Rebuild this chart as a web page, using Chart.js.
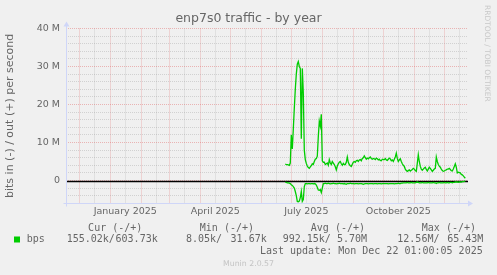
<!DOCTYPE html>
<html><head><meta charset="utf-8">
<script src="https://cdn.jsdelivr.net/npm/chart.js@4/dist/chart.umd.min.js"></script>
<style>html,body{margin:0;padding:0;background:#F0F0F0;}canvas{display:block}</style>
</head><body>
<canvas id="c" width="497" height="275"></canvas>
<script>
// ---------- data ----------
const chartTitle = 'enp7s0 traffic - by year';
const yAxisTitle = 'bits in (-) / out (+) per second';
const watermark = 'RRDTOOL / TOBI OETIKER';
// time axis in days counted from 17 Nov 2024 (start of the 400-day window)
const monthStartDays = [14, 45, 76, 104, 135, 165, 196, 226, 257, 288, 318, 349, 379];
const midMonthDays = [29, 60, 91, 119, 150, 180, 211, 241, 272, 303, 333, 364, 394];
const quarterLabelDays = [60, 150, 241, 333];
const quarterLabels = ['January 2025', 'April 2025', 'July 2025', 'October 2025'];
const yTickValues = [-6e6, -4e6, -2e6, 0, 2e6, 4e6, 6e6, 8e6, 10e6, 12e6, 14e6, 16e6, 18e6, 20e6,
  22e6, 24e6, 26e6, 28e6, 30e6, 32e6, 34e6, 36e6, 38e6, 40e6];
const yLabelledValues = [0, 10e6, 20e6, 30e6, 40e6];
const yLabels = ['0', '10 M', '20 M', '30 M', '40 M'];
const firstDataDay = 220;               // first daily sample (late June 2025)
// daily averages, Mbit/s, out (+)
const outMbps = [
  4.3,4.2,4.2,4.1,4.0,4.6,12.0,8.3,13.5,19.0,
  24.0,28.0,30.6,31.3,30.0,29.5,11.0,29.5,23.0,8.0,
  5.5,4.5,3.8,3.4,3.2,3.6,3.9,4.4,4.2,5.0,
  5.6,5.8,6.4,11.5,15.6,14.3,17.4,5.2,4.8,4.8,
  4.2,4.4,4.6,4.0,5.5,4.6,4.2,5.0,4.6,4.2,
  3.6,2.8,3.8,4.4,4.8,5.0,4.4,4.0,4.5,4.2,
  4.2,4.8,6.2,4.8,4.2,3.9,3.7,4.3,4.8,5.0,
  4.8,5.2,5.3,5.0,5.4,5.5,5.2,5.8,6.0,6.5,
  6.0,5.6,5.9,5.7,6.0,6.2,5.8,5.6,5.8,5.7,
  5.5,5.9,5.7,5.4,5.6,5.3,5.2,5.6,5.5,5.5,
  5.8,5.4,5.3,5.6,5.9,5.7,5.2,5.4,5.0,5.6,
  6.2,7.2,5.8,5.0,5.4,5.7,5.0,4.4,4.0,3.7,
  3.0,2.6,2.4,2.6,2.8,2.5,2.7,2.9,3.2,3.0,
  2.6,2.4,4.5,6.8,5.0,3.7,3.0,2.7,3.0,3.3,
  3.5,2.9,2.5,3.0,3.5,3.2,2.8,2.4,2.7,3.0,
  3.2,6.2,5.0,4.2,3.8,3.5,3.0,2.6,2.4,2.5,
  2.7,2.8,3.0,3.0,3.2,2.9,2.6,2.5,3.0,3.7,
  4.4,3.5,2.0,2.2,2.1,2.0,1.6,1.5,1.2,0.9,
  0.6
];
// daily averages, Mbit/s, in (-), as positive magnitudes
const inMbps = [
  0.5,0.5,0.6,0.6,0.7,0.8,1.1,1.3,1.6,2.0,
  2.9,4.0,5.5,5.6,5.4,4.5,2.9,5.5,5.0,1.6,
  0.8,0.8,0.9,0.8,0.8,0.9,0.8,0.8,0.9,0.8,
  0.9,1.2,1.8,2.5,2.6,2.4,3.2,2.0,0.8,0.8,
  0.7,0.8,0.8,0.7,0.8,0.9,0.8,0.8,0.7,0.8,
  0.8,0.9,0.8,0.8,0.7,0.8,0.8,0.8,0.9,0.8,
  0.9,1.0,0.8,0.8,0.8,0.7,0.8,0.8,0.8,0.9,
  0.8,0.8,0.8,0.9,0.8,0.8,0.8,0.9,1.0,0.9,
  0.8,0.8,0.8,0.9,0.8,0.8,0.8,0.8,0.9,0.8,
  0.8,0.8,0.9,0.8,0.8,0.8,0.9,0.8,0.8,0.8,
  0.8,0.8,0.8,0.9,0.8,0.8,0.8,0.8,0.8,0.9,
  0.8,0.8,0.8,0.7,0.8,0.8,0.7,0.7,0.6,0.6,
  0.6,0.6,0.5,0.6,0.6,0.6,0.5,0.6,0.6,0.6,
  0.6,0.5,0.4,0.5,0.6,0.6,0.6,0.5,0.6,0.6,
  0.6,0.6,0.6,0.5,0.6,0.6,0.6,0.6,0.5,0.6,
  0.6,0.8,0.6,0.6,0.5,0.6,0.6,0.6,0.6,0.5,
  0.6,0.6,0.5,0.6,0.6,0.5,0.5,0.6,0.5,0.5,
  0.4,0.4,0.4,0.5,0.4,0.4,0.4,0.3,0.3,0.2,
  0.15
];
const seriesName = 'bps';
const legendHeaders = ['Cur (-/+)', 'Min (-/+)', 'Avg (-/+)', 'Max (-/+)'];
const legendIn = ['155.02k', '8.05k', '992.15k', '12.56M'];
const legendOut = ['603.73k', '31.67k', '5.70M', '65.43M'];
const lastUpdate = 'Last update: Mon Dec 22 01:00:05 2025';
const footerText = 'Munin 2.0.57';

// ---------- styles ----------
const SERIES_COLOR = '#00CC00';
const FONT_COLOR = '#666666';
const AXIS_COLOR = '#CFD6F8';
const GRID_MINOR = 'rgba(143,143,143,0.32)';
const GRID_MAJOR = 'rgba(222,79,79,0.38)';

const outPoints = outMbps.map((v, i) => ({x: firstDataDay + i, y: v * 1e6}));
const inPoints = inMbps.map((v, i) => ({x: firstDataDay + i, y: -v * 1e6}));
const xTickDays = [...monthStartDays, ...midMonthDays].sort((a, b) => a - b);

const decorPlugin = {
  id: 'decor',
  beforeDatasetsDraw(chart) {
    const {ctx, chartArea: a, scales} = chart;
    const y0 = Math.round(scales.y.getPixelForValue(0)) + 0.5;
    ctx.save();
    ctx.strokeStyle = '#000';
    ctx.lineWidth = 1.3;
    ctx.beginPath(); ctx.moveTo(a.left, y0); ctx.lineTo(a.right, y0); ctx.stroke();
    // axes with arrows
    ctx.strokeStyle = AXIS_COLOR; ctx.fillStyle = AXIS_COLOR; ctx.lineWidth = 1;
    const xl = Math.round(a.left) + 0.5, yb = Math.round(a.bottom) + 0.5;
    ctx.beginPath(); ctx.moveTo(xl, yb + 3); ctx.lineTo(xl, a.top - 4); ctx.stroke();
    ctx.beginPath(); ctx.moveTo(xl - 3, a.top - 2); ctx.lineTo(xl + 3, a.top - 2); ctx.lineTo(xl, a.top - 7); ctx.closePath(); ctx.fill();
    ctx.beginPath(); ctx.moveTo(xl - 3, yb); ctx.lineTo(a.right + 2, yb); ctx.stroke();
    ctx.beginPath(); ctx.moveTo(a.right, yb - 3); ctx.lineTo(a.right, yb + 3); ctx.lineTo(a.right + 5, yb); ctx.closePath(); ctx.fill();
    ctx.restore();
  },
  afterDraw(chart) {
    const {ctx} = chart;
    ctx.save();
    ctx.fillStyle = '#c8c8c8';
    ctx.font = '7.5px "DejaVu Sans"';
    ctx.textBaseline = 'middle'; ctx.textAlign = 'left';
    ctx.translate(487, 5); ctx.rotate(Math.PI / 2);
    ctx.fillText(watermark, 0, 0);
    ctx.restore();

    ctx.save();
    ctx.fillStyle = FONT_COLOR;
    ctx.font = '10px "DejaVu Sans Mono"';
    ctx.textBaseline = 'middle';
    const headRight = [142.3, 254, 365, 476];
    const inLeft = [66.7, 186, 282.7, 397.3];
    const outRight = [157.7, 266.7, 367, 483.3];
    ctx.textAlign = 'right';
    legendHeaders.forEach((t, i) => ctx.fillText(t, headRight[i], 228));
    legendOut.forEach((t, i) => ctx.fillText(t, outRight[i], 239.7));
    ctx.fillText(lastUpdate, 482.7, 251.7);
    ctx.textAlign = 'left';
    legendIn.forEach((t, i) => ctx.fillText(t + '/', inLeft[i], 239.7));
    ctx.fillText(seriesName, 26.7, 239.7);
    ctx.fillStyle = SERIES_COLOR;
    ctx.fillRect(14, 236.5, 6, 6);
    ctx.fillStyle = '#c4c4c4';
    ctx.font = '7.8px "DejaVu Sans"';
    ctx.textAlign = 'center';
    ctx.fillText(footerText, 248.5, 264);
    ctx.restore();
  }
};

Chart.defaults.font.family = '"DejaVu Sans"';
Chart.defaults.color = FONT_COLOR;

new Chart(document.getElementById('c'), {
  type: 'line',
  data: {
    datasets: [
      {label: 'out', data: outPoints, borderColor: SERIES_COLOR, borderWidth: 1.3, pointRadius: 0, tension: 0, fill: false},
      {label: 'in', data: inPoints, borderColor: SERIES_COLOR, borderWidth: 1.3, pointRadius: 0, tension: 0, fill: false}
    ]
  },
  options: {
    responsive: false,
    animation: false,
    events: [],
    layout: {padding: 0},
    plugins: {
      legend: {display: false},
      tooltip: {enabled: false},
      title: {
        display: true, text: chartTitle, color: FONT_COLOR,
        font: {size: 12.5, weight: 'normal', lineHeight: 1.2},
        padding: {top: 11.5, bottom: 2}
      }
    },
    scales: {
      x: {
        type: 'linear', position: 'bottom', min: 0.7, max: 402.7,
        afterFit: s => { s.height = 71.7; },
        afterBuildTicks: s => { s.ticks = xTickDays.map(v => ({value: v})); },
        ticks: {
          autoSkip: false, maxRotation: 0, padding: 3, color: FONT_COLOR,
          font: {size: 9.5},
          callback: v => { const i = quarterLabelDays.indexOf(v); return i >= 0 ? quarterLabels[i] : ''; }
        },
        grid: {
          drawTicks: false, lineWidth: 1,
          color: c => (c.tick && monthStartDays.includes(c.tick.value)) ? GRID_MAJOR : GRID_MINOR
        },
        border: {display: false, dash: [1, 1]}
      },
      y: {
        type: 'linear', position: 'left', min: -6e6, max: 40e6,
        afterFit: s => { s.width = 66; },
        afterBuildTicks: s => { s.ticks = yTickValues.map(v => ({value: v})); },
        ticks: {
          autoSkip: false, padding: 6, color: FONT_COLOR, font: {size: 9.5},
          callback: v => { const i = yLabelledValues.indexOf(v); return i >= 0 ? yLabels[i] : ''; }
        },
        grid: {
          drawTicks: false, lineWidth: 1,
          color: c => (c.tick && yLabelledValues.includes(c.tick.value)) ? GRID_MAJOR : GRID_MINOR
        },
        border: {display: false, dash: [1, 1]},
        title: {display: true, text: yAxisTitle, color: FONT_COLOR, font: {size: 11}, padding: {top: 4, bottom: 0}}
      },
      yr: {
        type: 'linear', position: 'right', display: true,
        afterFit: s => { s.width = 29; },
        ticks: {display: false}, grid: {display: false}, border: {display: false}
      }
    }
  },
  plugins: [decorPlugin]
});
</script>
</body></html>
